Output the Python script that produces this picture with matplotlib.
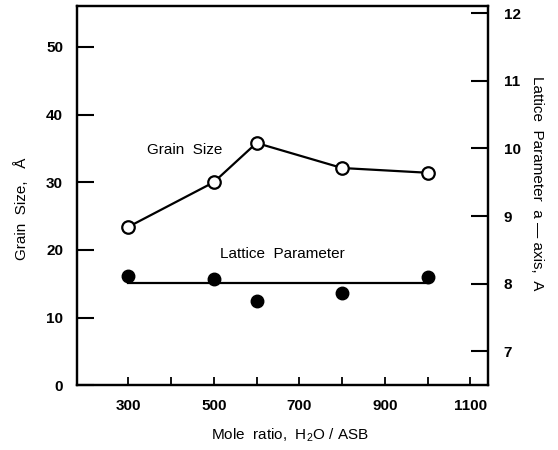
import matplotlib
matplotlib.use("Agg")
import matplotlib.pyplot as plt

plt.rcParams['font.family'] = ['Liberation Sans', 'DejaVu Sans']
plt.rcParams['mathtext.fontset'] = 'custom'
plt.rcParams['mathtext.rm'] = 'Liberation Sans'

# Data
mole_ratio = [300, 500, 600, 800, 1000]
grain_size = [23.4, 30.0, 35.8, 32.1, 31.4]
lattice_param = [8.11, 8.07, 7.74, 7.87, 8.10]
lattice_fit_x = [300, 1000]
lattice_fit = [8.01, 8.01]

x_ticks = [300, 400, 500, 600, 700, 800, 900, 1000, 1100]
x_ticklabels = ['300', '', '500', '', '700', '', '900', '', '1100']
left_ticks = [0, 10, 20, 30, 40, 50]
right_ticks = [7, 8, 9, 10, 11, 12]

fig = plt.figure(figsize=(5.58, 4.5), dpi=100)
ax = fig.add_axes([0.138, 0.144, 0.737, 0.842])

ax.plot(mole_ratio, grain_size, color='black', lw=1.6, marker='o', ms=9,
        mfc='white', mec='black', mew=1.6, zorder=3)
ax.set_xlim(180, 1142)
ax.set_ylim(0, 56)
ax.set_xticks(x_ticks)
ax.set_xticklabels(x_ticklabels)
ax.set_yticks(left_ticks)
for s in ax.spines.values():
    s.set_linewidth(1.6)
ax.tick_params(axis='y', direction='in', length=12, width=1.5, pad=10, labelsize=11)
ax.tick_params(axis='x', direction='in', length=6, width=1.3, pad=10, labelsize=11)
for lbl in ax.get_xticklabels() + ax.get_yticklabels():
    lbl.set_fontweight('bold')

ax2 = ax.twinx()
ax2.plot(lattice_fit_x, lattice_fit, color='black', lw=1.6, zorder=2)
ax2.plot(mole_ratio, lattice_param, linestyle='none', marker='o', ms=9,
         mfc='black', mec='black', zorder=3)
ax2.set_ylim(6.5, 12.1)
ax2.set_yticks(right_ticks)
ax2.tick_params(axis='y', direction='in', length=12, width=1.5, pad=11, labelsize=11)
for lbl in ax2.get_yticklabels():
    lbl.set_fontweight('bold')
for s in ax2.spines.values():
    s.set_linewidth(1.6)

ax.text(432, 34.8, 'Grain  Size', ha='center', va='center', fontsize=11)
ax2.text(660, 8.44, 'Lattice  Parameter', ha='center', va='center', fontsize=11)

fig.text(0.038, 0.536, 'Grain  Size,   Å', rotation=90, ha='center', va='center', fontsize=11)
fig.text(0.962, 0.593, 'Lattice  Parameter  a — axis,  A', rotation=270,
         ha='center', va='center', fontsize=11)
fig.text(0.52, 0.032, r'Mole  ratio,  H$_2$O / ASB', ha='center', va='center', fontsize=11)

fig.savefig('out.png', dpi=100)
